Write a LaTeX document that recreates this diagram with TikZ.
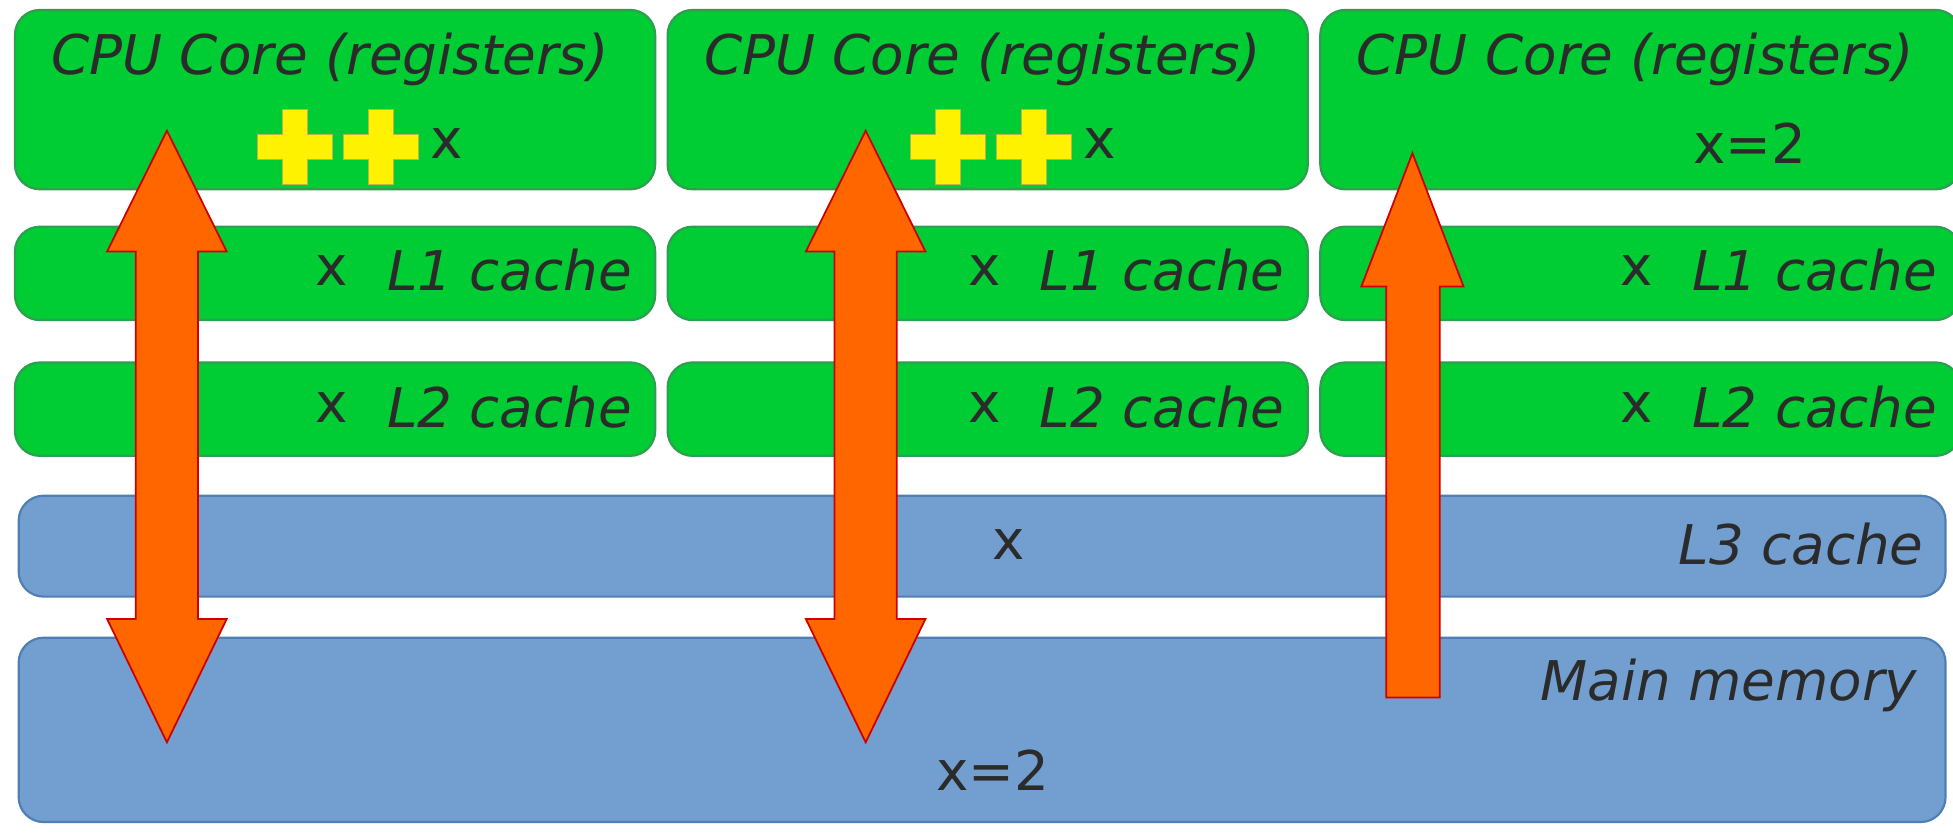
\documentclass[tikz,border=0pt]{standalone}
\usepackage{fontspec}
\setmainfont{DejaVu Sans}
\usetikzlibrary{positioning}
\definecolor{coregreen}{HTML}{00CC33}
\definecolor{coreedge}{HTML}{2E9E50}
\definecolor{memblue}{HTML}{729FCF}
\definecolor{memedge}{HTML}{4F7FB5}
\definecolor{flow}{HTML}{FF6600}
\definecolor{ink}{HTML}{2B2B2B}
\tikzstyle{level} = [draw=coreedge,fill=coregreen,rounded corners=0.2cm,line width=0.5pt]
\tikzstyle{mem} = [draw=memedge,fill=memblue,rounded corners=0.2cm,line width=0.5pt]
\tikzstyle{lbl} = [text=ink,font=\fontsize{12.5}{14}\selectfont\itshape,inner sep=0pt]
\tikzstyle{val} = [text=ink,font=\fontsize{12.5}{14}\selectfont,inner sep=0pt]
\tikzstyle{flowarrow} = [fill=flow,draw=red!80!black,line width=0.4pt]
\tikzstyle{plus} = [fill=yellow,draw=olive!60,line width=0.3pt]
\newcommand{\plussign}[1]{% centre of a yellow plus
  \path[plus] ($(#1)+(-0.3,0.1)$) -- ++(0.2,0) -- ++(0,0.2) -- ++(0.2,0) -- ++(0,-0.2)
    -- ++(0.2,0) -- ++(0,-0.2) -- ++(-0.2,0) -- ++(0,-0.2) -- ++(-0.2,0) -- ++(0,0.2)
    -- ++(-0.2,0) -- cycle;}
\usetikzlibrary{calc}
\begin{document}
\begin{tikzpicture}
	\useasboundingbox (0,0) rectangle (15.68,-6.68);
	\clip (0,0) rectangle (15.68,-6.68);
	\fill[white] (0,0) rectangle (15.68,-6.68);

	% per-core levels
	\foreach \c/\x in {1/0.12,2/5.36,3/10.60} {
		\draw[level] (\x,-0.08) rectangle ++(5.14,-1.44);
		\draw[level] (\x,-1.82) rectangle ++(5.14,-0.75);
		\draw[level] (\x,-2.91) rectangle ++(5.14,-0.75);
		\node[lbl] (core\c) at ($(\x,-0.48)+(2.53,0)$) {CPU Core (registers)};
		\node[lbl,anchor=east] (l1\c) at ($(\x,-2.17)+(4.96,0)$) {L1 cache};
		\node[val,left=0.3cm of l1\c] {x};
		\node[lbl,anchor=east] (l2\c) at ($(\x,-3.27)+(4.96,0)$) {L2 cache};
		\node[val,left=0.3cm of l2\c] {x};
	}

	% shared levels
	\draw[mem] (0.15,-3.98) rectangle (15.62,-4.79);
	\draw[mem] (0.15,-5.12) rectangle (15.62,-6.60);
	\node[lbl,anchor=east] (l3) at (15.45,-4.37) {L3 cache};
	\node[val] (l3x) at (8.10,-4.37) {x};
	\node[lbl,anchor=east] (ram) at (15.40,-5.50) {Main memory};
	\node[val] (ramx) at (7.97,-6.18) {x=2};

	% register contents
	\plussign{2.37,-1.18}
	\plussign{3.06,-1.18}
	\node[val,anchor=west] (inc1) at (3.45,-1.15) {x};
	\plussign{7.61,-1.18}
	\plussign{8.30,-1.18}
	\node[val,anchor=west] (inc2) at (8.69,-1.15) {x};
	\node[val] (reg3) at (14.05,-1.15) {x=2};

	% transfers
	\foreach \m in {1.34,6.95} {
		\path[flowarrow] (\m,-1.05) -- (\m+0.48,-2.02) -- (\m+0.25,-2.02) -- (\m+0.25,-4.97)
			-- (\m+0.48,-4.97) -- (\m,-5.96) -- (\m-0.48,-4.97) -- (\m-0.25,-4.97)
			-- (\m-0.25,-2.02) -- (\m-0.48,-2.02) -- cycle;
	}
	\path[flowarrow] (11.34,-1.23) -- (11.75,-2.30) -- (11.56,-2.30) -- (11.56,-5.60)
		-- (11.13,-5.60) -- (11.13,-2.30) -- (10.93,-2.30) -- cycle;
\end{tikzpicture}
\end{document}
